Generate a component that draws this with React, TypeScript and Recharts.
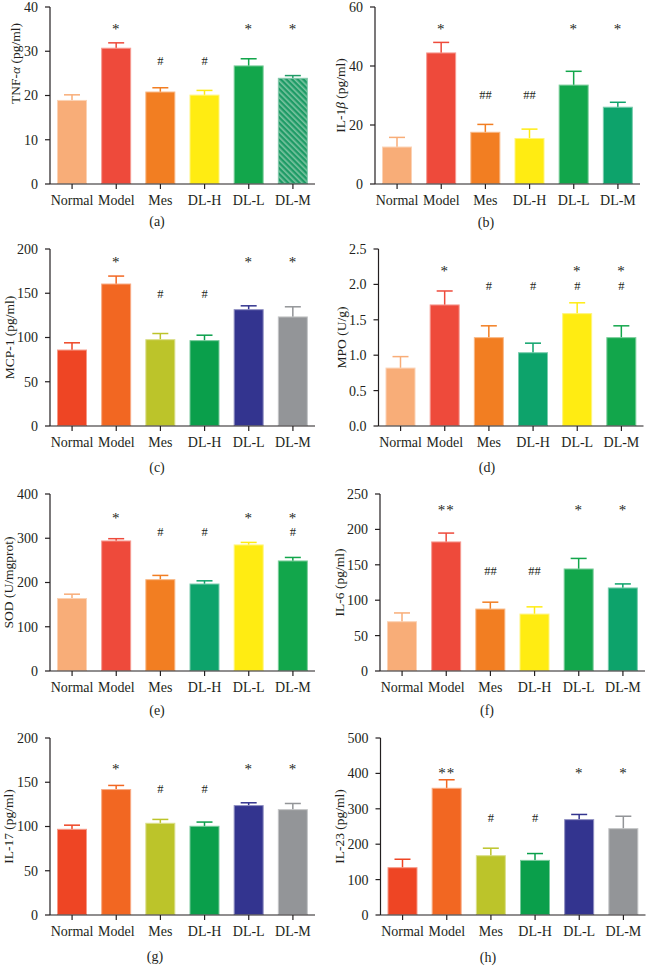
import React from 'react';
import { ComposedChart, Bar, Line, XAxis, YAxis, Label } from 'recharts';

const categories = ['Normal', 'Model', 'Mes', 'DL-H', 'DL-L', 'DL-M'];

// (a) TNF-α
const tnfMean = [19.0, 30.8, 20.9, 20.2, 26.8, 24.0];
const tnfErr = [1.15, 1.1, 0.85, 0.95, 1.5, 0.5];
const tnfStars = ['', '*', '', '', '*', '*'];
const tnfHash = ['', '', '#', '#', '', ''];

// (b) IL-1β
const il1Mean = [12.7, 44.6, 17.7, 15.6, 33.7, 26.2];
const il1Err = [3.1, 3.4, 2.5, 3.0, 4.5, 1.5];
const il1Stars = ['', '*', '', '', '*', '*'];
const il1Hash = ['', '', '##', '##', '', ''];

// (c) MCP-1
const mcpMean = [86.4, 161, 98.1, 97, 132, 123.8];
const mcpErr = [7.6, 8.4, 6.4, 5.6, 3.8, 10.9];
const mcpStars = ['', '*', '', '', '*', '*'];
const mcpHash = ['', '', '#', '#', '', ''];

// (d) MPO
const mpoMean = [0.825, 1.717, 1.255, 1.042, 1.594, 1.255];
const mpoErr = [0.155, 0.19, 0.16, 0.128, 0.146, 0.16];
const mpoStars = ['', '*', '', '', '*', '*'];
const mpoHash = ['', '', '#', '#', '#', '#'];

// (e) SOD
const sodMean = [165, 295, 207.5, 197.7, 286, 249.8];
const sodErr = [8.6, 4, 8.5, 6.1, 4.6, 6.8];
const sodStars = ['', '*', '', '', '*', '*'];
const sodHash = ['', '', '#', '#', '', '#'];

// (f) IL-6
const il6Mean = [70.3, 183, 88.2, 81.1, 144.8, 118];
const il6Err = [11.7, 11.8, 9, 9.5, 14.2, 5];
const il6Stars = ['', '**', '', '', '*', '*'];
const il6Hash = ['', '', '##', '##', '', ''];

// (g) IL-17
const il17Mean = [97.4, 142.3, 104.2, 100.8, 124.2, 119.6];
const il17Err = [4.1, 4.1, 3.8, 4.2, 2.6, 6.4];
const il17Stars = ['', '*', '', '', '*', '*'];
const il17Hash = ['', '', '#', '#', '', ''];

// (h) IL-23
const il23Mean = [135, 359.4, 168.9, 155.7, 270.8, 245.3];
const il23Err = [22.5, 22.6, 19.8, 17.9, 13.2, 33.7];
const il23Stars = ['', '**', '', '', '*', '*'];
const il23Hash = ['', '', '#', '#', '', ''];

const LORANGE = '#F8AD78';
const RED = '#EE4A3B';
const ORANGE = '#F27E22';
const YELLOW = '#FFEC12';
const GREEN = '#12A64B';
const TEAL = '#0DA36B';
const RED2 = '#EE4524';
const ORANGE2 = '#F26722';
const OLIVE = '#BCC42A';
const GREEN2 = '#0A9F4B';
const NAVY = '#33348F';
const GRAY = '#939598';

const paletteA = [LORANGE, RED, ORANGE, YELLOW, GREEN, '#1E9B66'];
const paletteB = [LORANGE, RED, ORANGE, YELLOW, GREEN, TEAL];
const paletteC = [RED2, ORANGE2, OLIVE, GREEN2, NAVY, GRAY];
const paletteD = [LORANGE, RED, ORANGE, TEAL, YELLOW, GREEN];

const INK = '#231f20';
const FONT = '"Liberation Serif", "DejaVu Serif", serif';
const PLOT_W = 265;
const PLOT_H = 177;
const TOP_PAD = 12;

type Part = { t: string; i?: boolean };

const panels = [
  { key: 'a', mean: tnfMean, err: tnfErr, stars: tnfStars, hash: tnfHash, starAt: 35.7, hashAt: 27.9,
    ticks: [0, 10, 20, 30, 40], colors: paletteA, hatch: 5,
    title: [{ t: 'TNF-' }, { t: 'α', i: true }, { t: ' (pg/ml)' }] as Part[],
    left: 0, plotLeft: 50, plotTop: 7, labelX: 15, labelShift: -32, tagX: 157, tagY: 222 },
  { key: 'b', mean: il1Mean, err: il1Err, stars: il1Stars, hash: il1Hash, starAt: 53.5, hashAt: 30.2,
    ticks: [0, 20, 40, 60], colors: paletteB, hatch: -1,
    title: [{ t: 'IL-1' }, { t: 'β', i: true }, { t: ' (pg/ml)' }] as Part[],
    left: 323, plotLeft: 375, plotTop: 7, labelX: 340, labelShift: 0, tagX: 486, tagY: 223 },
  { key: 'c', mean: mcpMean, err: mcpErr, stars: mcpStars, hash: mcpHash, starAt: 189, hashAt: 150,
    ticks: [0, 50, 100, 150, 200], colors: paletteC, hatch: -1,
    title: [{ t: 'MCP-1 (pg/ml)' }] as Part[],
    left: 0, plotLeft: 50, plotTop: 249, labelX: 9, labelShift: 0, tagX: 157, tagY: 468 },
  { key: 'd', mean: mpoMean, err: mpoErr, stars: mpoStars, hash: mpoHash, starAt: 2.23, hashAt: 1.98,
    ticks: [0, 0.5, 1, 1.5, 2, 2.5], colors: paletteD, hatch: -1,
    title: [{ t: 'MPO (U/g)' }] as Part[],
    left: 323, plotLeft: 378.5, plotTop: 249, labelX: 341, labelShift: 0, tagX: 487, tagY: 468 },
  { key: 'e', mean: sodMean, err: sodErr, stars: sodStars, hash: sodHash, starAt: 352, hashAt: 315,
    ticks: [0, 100, 200, 300, 400], colors: paletteD, hatch: -1,
    title: [{ t: 'SOD (U/mgprot)' }] as Part[],
    left: 0, plotLeft: 50, plotTop: 494, labelX: 8, labelShift: 0, tagX: 157, tagY: 711 },
  { key: 'f', mean: il6Mean, err: il6Err, stars: il6Stars, hash: il6Hash, starAt: 231, hashAt: 141.5,
    ticks: [0, 50, 100, 150, 200, 250], colors: paletteB, hatch: -1,
    title: [{ t: 'IL-6 (pg/ml)' }] as Part[],
    left: 323, plotLeft: 380, plotTop: 494, labelX: 339, labelShift: 0, tagX: 487, tagY: 711 },
  { key: 'g', mean: il17Mean, err: il17Err, stars: il17Stars, hash: il17Hash, starAt: 168, hashAt: 142.6,
    ticks: [0, 50, 100, 150, 200], colors: paletteC, hatch: -1,
    title: [{ t: 'IL-17 (pg/ml)' }] as Part[],
    left: 0, plotLeft: 50, plotTop: 738, labelX: 8, labelShift: 0, tagX: 155, tagY: 957 },
  { key: 'h', mean: il23Mean, err: il23Err, stars: il23Stars, hash: il23Hash, starAt: 408, hashAt: 274,
    ticks: [0, 100, 200, 300, 400, 500], colors: paletteC, hatch: -1,
    title: [{ t: 'IL-23 (pg/ml)' }] as Part[],
    left: 323, plotLeft: 380.5, plotTop: 738, labelX: 339, labelShift: 0, tagX: 488, tagY: 958 },
];

function lighten(hex: string, amt: number) {
  const n = parseInt(hex.slice(1), 16);
  const r = (n >> 16) & 255, g = (n >> 8) & 255, b = n & 255;
  const m = (c: number) => Math.round(c + (255 - c) * amt);
  return `rgb(${m(r)},${m(g)},${m(b)})`;
}

function makeBarShape(colors: string[], hatch: number, pid: string) {
  return (props: any) => {
    const { x, y, width, height, index, payload } = props;
    const color = colors[index];
    const perUnit = payload.value ? height / payload.value : 0;
    const capY = y - payload.err * perUnit;
    const cx = x + width / 2;
    const hatched = index === hatch;
    return (
      <g>
        {hatched && (
          <defs>
            <pattern id={pid} width="4" height="4" patternUnits="userSpaceOnUse" patternTransform="rotate(-45)">
              <rect width="4" height="4" fill={color} />
              <rect width="1.6" height="4" fill="#7cc4a1" />
            </pattern>
          </defs>
        )}
        <line x1={cx} x2={cx} y1={y + 1} y2={capY} stroke={color} strokeWidth={1.5} />
        <line x1={cx - 8} x2={cx + 8} y1={capY} y2={capY} stroke={color} strokeWidth={1.5} />
        <rect
          x={x + 0.5}
          y={y + 0.5}
          width={width - 1}
          height={Math.max(height - 1, 0)}
          fill={hatched ? `url(#${pid})` : color}
          stroke={lighten(color, 0.45)}
          strokeWidth={1}
        />
      </g>
    );
  };
}

function makeMark(field: 'star' | 'hash') {
  return (props: any) => {
    const { cx, cy, index, payload } = props;
    const txt: string = payload[field];
    const isStar = field === 'star';
    const fs = isStar ? 15 : 12.5;
    return (
      <text
        key={`${field}-${index}`}
        x={cx}
        y={cy + (isStar ? fs * 0.52 : fs * 0.34)}
        textAnchor="middle"
        fontSize={fs}
        fontFamily={FONT}
        fill={INK}
        stroke="none"
        letterSpacing={isStar ? 1 : 0}
      >
        {txt}
      </text>
    );
  };
}

function Panel({ p }: { p: (typeof panels)[number] }) {
  const data = categories.map((name, i) => ({
    name,
    value: p.mean[i],
    err: p.err[i],
    star: p.stars[i],
    hash: p.hash[i],
    starY: p.starAt,
    hashY: p.hashAt,
  }));
  const yMax = p.ticks[p.ticks.length - 1];
  const axisW = p.plotLeft - p.left;
  const chartW = p.left === 0 ? 323 : 324;
  const rightMargin = p.left + chartW - (p.plotLeft + PLOT_W);
  const top = p.plotTop - TOP_PAD;
  const decimals = yMax < 5 ? 1 : 0;
  return (
    <div style={{ position: 'absolute', left: p.left, top }}>
      <ComposedChart
        width={chartW}
        height={TOP_PAD + PLOT_H + 45}
        data={data}
        margin={{ top: TOP_PAD, right: rightMargin, bottom: 0, left: 0 }}
        barCategoryGap="16%"
      >
        <XAxis
          dataKey="name"
          interval={0}
          height={45}
          tickSize={5}
          tickMargin={6}
          tick={{ fontSize: 14, fill: INK, fontFamily: FONT }}
          axisLine={{ stroke: INK, strokeWidth: 1.2 }}
          tickLine={{ stroke: INK, strokeWidth: 1.2 }}
        />
        <YAxis
          domain={[0, yMax]}
          ticks={p.ticks}
          interval={0}
          width={axisW}
          tickSize={5}
          tickMargin={7}
          allowDataOverflow
          tickFormatter={(v: number) => v.toFixed(decimals)}
          tick={{ fontSize: 14, fill: INK, fontFamily: FONT }}
          axisLine={{ stroke: INK, strokeWidth: 1.2 }}
          tickLine={{ stroke: INK, strokeWidth: 1.2 }}
        >
          <Label
            content={() => {
              const lx = p.labelX - p.left;
              const ly = TOP_PAD + PLOT_H / 2 + p.labelShift;
              return (
                <text
                  x={lx}
                  y={ly}
                  dy="0.35em"
                  transform={`rotate(-90 ${lx} ${ly})`}
                  textAnchor="middle"
                  fontSize={13.5}
                  fontFamily={FONT}
                  fill={INK}
                >
                  {p.title.map((part, i) => (
                    <tspan key={i} fontStyle={part.i ? 'italic' : 'normal'}>
                      {part.t}
                    </tspan>
                  ))}
                </text>
              );
            }}
          />
        </YAxis>
        <Bar
          dataKey="value"
          barSize={30}
          isAnimationActive={false}
          shape={makeBarShape(p.colors, p.hatch, `hatch-${p.key}`)}
        />
        <Line
          dataKey="starY"
          stroke="none"
          isAnimationActive={false}
          activeDot={false}
          dot={makeMark('star')}
        />
        <Line
          dataKey="hashY"
          stroke="none"
          isAnimationActive={false}
          activeDot={false}
          dot={makeMark('hash')}
        />
      </ComposedChart>
    </div>
  );
}

export default function App() {
  return (
    <div
      style={{
        position: 'absolute',
        left: 0,
        top: 0,
        width: 647,
        height: 976,
        background: '#fff',
        overflow: 'hidden',
      }}
    >
      {panels.map((p) => (
        <React.Fragment key={p.key}>
          <Panel p={p} />
          <div
            style={{
              position: 'absolute',
              left: p.tagX - 20,
              top: p.tagY - 9,
              width: 40,
              textAlign: 'center',
              fontFamily: FONT,
              fontSize: 14,
              lineHeight: '18px',
              color: INK,
            }}
          >
            ({p.key})
          </div>
        </React.Fragment>
      ))}
    </div>
  );
}
